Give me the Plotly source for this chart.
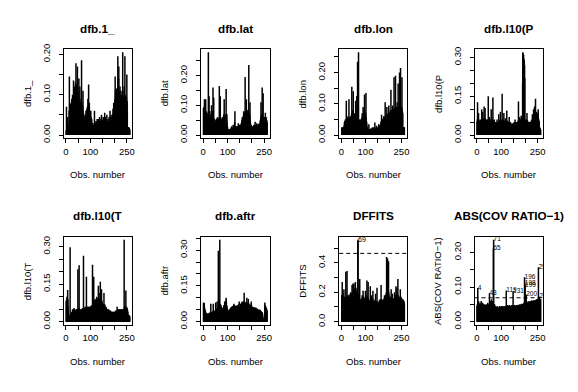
import plotly.graph_objects as go

# ---------------- data ----------------
dfb_1 = [
    0.012, 0.070, 0.015, 0.010, 0.020, 0.008, 0.045, 0.012, 0.018, 0.010,
    0.025, 0.015, 0.060, 0.145, 0.040, 0.020, 0.075, 0.070, 0.078, 0.065,
    0.072, 0.080, 0.068, 0.090, 0.078, 0.085, 0.100, 0.070, 0.095, 0.080,
    0.135, 0.090, 0.105, 0.088, 0.120, 0.095, 0.110, 0.085, 0.130, 0.100,
    0.178, 0.095, 0.120, 0.100, 0.080, 0.125, 0.170, 0.090, 0.110, 0.085,
    0.095, 0.075, 0.140, 0.090, 0.070, 0.085, 0.120, 0.060, 0.075, 0.080,
    0.065, 0.090, 0.070, 0.185, 0.080, 0.060, 0.075, 0.050, 0.070, 0.110,
    0.045, 0.055, 0.030, 0.048, 0.035, 0.020, 0.040, 0.025, 0.050, 0.030,
    0.045, 0.060, 0.035, 0.050, 0.040, 0.065, 0.055, 0.070, 0.050, 0.090,
    0.060, 0.075, 0.125, 0.065, 0.050, 0.080, 0.045, 0.060, 0.040, 0.055,
    0.035, 0.060, 0.045, 0.030, 0.025, 0.040, 0.020, 0.015, 0.030, 0.020,
    0.012, 0.018, 0.010, 0.025, 0.015, 0.030, 0.060, 0.020, 0.035, 0.025,
    0.020, 0.030, 0.015, 0.025, 0.035, 0.018, 0.022, 0.040, 0.020, 0.028,
    0.015, 0.025, 0.040, 0.030, 0.020, 0.035, 0.018, 0.045, 0.025, 0.030,
    0.020, 0.035, 0.028, 0.040, 0.022, 0.050, 0.030, 0.025, 0.038, 0.020,
    0.030, 0.018, 0.045, 0.025, 0.035, 0.020, 0.040, 0.030, 0.055, 0.022,
    0.035, 0.025, 0.045, 0.030, 0.020, 0.040, 0.028, 0.050, 0.035, 0.025,
    0.030, 0.022, 0.040, 0.018, 0.035, 0.028, 0.045, 0.030, 0.025, 0.038,
    0.060, 0.035, 0.045, 0.030, 0.050, 0.040, 0.025, 0.045, 0.030, 0.035,
    0.050, 0.040, 0.065, 0.045, 0.055, 0.080, 0.060, 0.050, 0.070, 0.055,
    0.090, 0.145, 0.110, 0.080, 0.100, 0.070, 0.115, 0.085, 0.095, 0.075,
    0.110, 0.090, 0.195, 0.120, 0.100, 0.140, 0.170, 0.090, 0.110, 0.080,
    0.100, 0.120, 0.085, 0.095, 0.070, 0.110, 0.090, 0.080, 0.100, 0.075,
    0.090, 0.085, 0.205, 0.110, 0.080, 0.095, 0.070, 0.085, 0.120, 0.090,
    0.075, 0.195, 0.100, 0.080, 0.090, 0.085, 0.070, 0.095, 0.080, 0.150,
    0.085, 0.060, 0.020, 0.015, 0.018, 0.012, 0.020, 0.015, 0.010, 0.018,
    0.012, 0.015,
]

dfb_lat = [
    0.090, 0.085, 0.095, 0.060, 0.120, 0.080, 0.070, 0.095, 0.060, 0.120,
    0.070, 0.055, 0.080, 0.060, 0.050, 0.075, 0.045, 0.065, 0.050, 0.060,
    0.278, 0.060, 0.055, 0.130, 0.050, 0.065, 0.080, 0.055, 0.045, 0.060,
    0.050, 0.070, 0.045, 0.100, 0.055, 0.050, 0.060, 0.045, 0.080, 0.160,
    0.060, 0.050, 0.125, 0.045, 0.055, 0.040, 0.050, 0.045, 0.048, 0.042,
    0.045, 0.050, 0.040, 0.055, 0.048, 0.045, 0.050, 0.060, 0.045, 0.052,
    0.048, 0.055, 0.050, 0.045, 0.060, 0.165, 0.050, 0.045, 0.055, 0.130,
    0.050, 0.045, 0.055, 0.048, 0.052, 0.045, 0.050, 0.060, 0.045, 0.055,
    0.060, 0.050, 0.045, 0.070, 0.055, 0.120, 0.050, 0.060, 0.045, 0.055,
    0.050, 0.045, 0.070, 0.155, 0.060, 0.050, 0.070, 0.040, 0.030, 0.025,
    0.020, 0.015, 0.012, 0.018, 0.010, 0.015, 0.020, 0.012, 0.018, 0.010,
    0.015, 0.012, 0.020, 0.025, 0.018, 0.015, 0.030, 0.020, 0.015, 0.022,
    0.018, 0.025, 0.035, 0.020, 0.015, 0.025, 0.030, 0.020, 0.045, 0.080,
    0.025, 0.030, 0.020, 0.028, 0.022, 0.030, 0.018, 0.025, 0.020, 0.030,
    0.022, 0.028, 0.020, 0.040, 0.025, 0.018, 0.030, 0.022, 0.035, 0.025,
    0.020, 0.030, 0.025, 0.035, 0.028, 0.040, 0.030, 0.045, 0.050, 0.060,
    0.045, 0.055, 0.060, 0.050, 0.065, 0.080, 0.055, 0.070, 0.060, 0.075,
    0.065, 0.195, 0.080, 0.070, 0.060, 0.075, 0.120, 0.065, 0.070, 0.085,
    0.070, 0.060, 0.080, 0.065, 0.075, 0.070, 0.235, 0.080, 0.060, 0.070,
    0.065, 0.110, 0.050, 0.040, 0.030, 0.025, 0.035, 0.020, 0.030, 0.010,
    0.025, 0.020, 0.030, 0.015, 0.025, 0.030, 0.020, 0.035, 0.025, 0.030,
    0.025, 0.035, 0.045, 0.030, 0.025, 0.035, 0.030, 0.025, 0.040, 0.030,
    0.035, 0.028, 0.032, 0.025, 0.030, 0.038, 0.028, 0.035, 0.030, 0.025,
    0.030, 0.035, 0.040, 0.050, 0.045, 0.060, 0.110, 0.055, 0.070, 0.060,
    0.065, 0.160, 0.070, 0.060, 0.055, 0.140, 0.060, 0.050, 0.040, 0.060,
    0.055, 0.045, 0.060, 0.050, 0.075, 0.055, 0.045, 0.050, 0.060, 0.040,
    0.050, 0.045,
]

dfb_lon = [
    0.025, 0.020, 0.022, 0.018, 0.025, 0.020, 0.015, 0.022, 0.025, 0.020,
    0.030, 0.040, 0.035, 0.045, 0.040, 0.050, 0.045, 0.048, 0.050, 0.110,
    0.050, 0.045, 0.055, 0.050, 0.048, 0.052, 0.060, 0.050, 0.045, 0.055,
    0.115, 0.050, 0.048, 0.055, 0.050, 0.050, 0.060, 0.045, 0.050, 0.055,
    0.060, 0.070, 0.155, 0.065, 0.055, 0.080, 0.070, 0.060, 0.140, 0.065,
    0.055, 0.060, 0.070, 0.050, 0.045, 0.060, 0.055, 0.065, 0.110, 0.060,
    0.050, 0.055, 0.060, 0.125, 0.050, 0.045, 0.235, 0.055, 0.060, 0.050,
    0.265, 0.045, 0.040, 0.050, 0.040, 0.045, 0.038, 0.042, 0.050, 0.045,
    0.045, 0.050, 0.040, 0.055, 0.048, 0.070, 0.050, 0.060, 0.055, 0.090,
    0.060, 0.070, 0.065, 0.080, 0.070, 0.130, 0.075, 0.060, 0.065, 0.070,
    0.060, 0.135, 0.055, 0.045, 0.040, 0.030, 0.025, 0.020, 0.015, 0.012,
    0.015, 0.010, 0.018, 0.035, 0.012, 0.015, 0.020, 0.010, 0.015, 0.018,
    0.012, 0.020, 0.015, 0.018, 0.022, 0.015, 0.020, 0.015, 0.025, 0.018,
    0.020, 0.015, 0.022, 0.018, 0.025, 0.020, 0.015, 0.018, 0.040, 0.020,
    0.018, 0.022, 0.015, 0.025, 0.020, 0.030, 0.018, 0.022, 0.020, 0.025,
    0.020, 0.018, 0.025, 0.020, 0.035, 0.022, 0.025, 0.030, 0.025, 0.028,
    0.030, 0.035, 0.030, 0.040, 0.035, 0.045, 0.065, 0.040, 0.045, 0.050,
    0.045, 0.040, 0.050, 0.045, 0.055, 0.060, 0.045, 0.050, 0.055, 0.050,
    0.060, 0.105, 0.055, 0.050, 0.060, 0.065, 0.055, 0.060, 0.090, 0.060,
    0.055, 0.065, 0.060, 0.070, 0.065, 0.060, 0.095, 0.065, 0.070, 0.065,
    0.070, 0.075, 0.065, 0.080, 0.070, 0.145, 0.075, 0.070, 0.080, 0.075,
    0.070, 0.080, 0.095, 0.075, 0.070, 0.080, 0.075, 0.085, 0.185, 0.080,
    0.075, 0.085, 0.080, 0.090, 0.190, 0.080, 0.075, 0.085, 0.080, 0.090,
    0.080, 0.105, 0.085, 0.080, 0.090, 0.165, 0.085, 0.080, 0.090, 0.085,
    0.095, 0.200, 0.085, 0.090, 0.080, 0.215, 0.090, 0.085, 0.080, 0.090,
    0.085, 0.185, 0.080, 0.075, 0.070, 0.025, 0.022, 0.025, 0.020, 0.025,
    0.022, 0.025,
]

dfb_l10P = [
    0.050, 0.060, 0.127, 0.055, 0.050, 0.045, 0.085, 0.050, 0.060, 0.045,
    0.050, 0.045, 0.045, 0.055, 0.050, 0.060, 0.055, 0.050, 0.060, 0.100,
    0.055, 0.050, 0.060, 0.090, 0.055, 0.060, 0.050, 0.065, 0.055, 0.110,
    0.060, 0.055, 0.065, 0.105, 0.060, 0.050, 0.055, 0.045, 0.060, 0.050,
    0.060, 0.055, 0.050, 0.045, 0.055, 0.060, 0.150, 0.055, 0.050, 0.045,
    0.055, 0.070, 0.050, 0.045, 0.055, 0.050, 0.060, 0.050, 0.100, 0.045,
    0.050, 0.055, 0.045, 0.050, 0.060, 0.145, 0.050, 0.045, 0.055, 0.050,
    0.045, 0.060, 0.040, 0.045, 0.035, 0.040, 0.045, 0.050, 0.040, 0.045,
    0.050, 0.045, 0.060, 0.040, 0.045, 0.050, 0.045, 0.040, 0.050, 0.080,
    0.045, 0.050, 0.055, 0.045, 0.050, 0.060, 0.090, 0.050, 0.045, 0.055,
    0.050, 0.060, 0.055, 0.160, 0.050, 0.045, 0.055, 0.050, 0.060, 0.050,
    0.085, 0.050, 0.045, 0.055, 0.050, 0.045, 0.065, 0.050, 0.045, 0.055,
    0.050, 0.045, 0.095, 0.050, 0.045, 0.050, 0.055, 0.045, 0.050, 0.045,
    0.050, 0.045, 0.070, 0.050, 0.045, 0.040, 0.045, 0.050, 0.040, 0.040,
    0.045, 0.040, 0.035, 0.040, 0.045, 0.040, 0.035, 0.040, 0.045, 0.040,
    0.045, 0.040, 0.050, 0.045, 0.040, 0.045, 0.060, 0.045, 0.050, 0.045,
    0.040, 0.045, 0.040, 0.050, 0.045, 0.050, 0.045, 0.050, 0.055, 0.050,
    0.130, 0.055, 0.050, 0.060, 0.070, 0.055, 0.050, 0.060, 0.055, 0.060,
    0.055, 0.075, 0.060, 0.055, 0.060, 0.065, 0.055, 0.200, 0.320, 0.315,
    0.300, 0.310, 0.295, 0.290, 0.285, 0.270, 0.220, 0.060, 0.055, 0.050,
    0.055, 0.060, 0.050, 0.055, 0.060, 0.085, 0.050, 0.045, 0.055, 0.050,
    0.045, 0.050, 0.040, 0.045, 0.050, 0.045, 0.040, 0.050, 0.045, 0.050,
    0.045, 0.050, 0.055, 0.045, 0.050, 0.060, 0.055, 0.080, 0.060, 0.065,
    0.070, 0.065, 0.100, 0.075, 0.070, 0.080, 0.110, 0.075, 0.080, 0.070,
    0.140, 0.080, 0.075, 0.070, 0.090, 0.065, 0.075, 0.070, 0.060, 0.085,
    0.070, 0.100, 0.065, 0.060, 0.055, 0.050, 0.025, 0.030, 0.025, 0.020,
    0.025, 0.020,
]

dfb_l10T = [
    0.085, 0.080, 0.090, 0.100, 0.085, 0.080, 0.127, 0.090, 0.060, 0.040,
    0.030, 0.020, 0.015, 0.018, 0.020, 0.025, 0.297, 0.020, 0.025, 0.030,
    0.020, 0.035, 0.030, 0.040, 0.035, 0.030, 0.050, 0.040, 0.035, 0.045,
    0.040, 0.035, 0.055, 0.045, 0.040, 0.050, 0.045, 0.040, 0.040, 0.045,
    0.040, 0.050, 0.045, 0.040, 0.050, 0.045, 0.050, 0.045, 0.210, 0.050,
    0.045, 0.050, 0.055, 0.225, 0.050, 0.045, 0.050, 0.040, 0.040, 0.045,
    0.050, 0.045, 0.040, 0.045, 0.050, 0.045, 0.050, 0.055, 0.050, 0.045,
    0.050, 0.263, 0.060, 0.050, 0.055, 0.045, 0.040, 0.055, 0.050, 0.060,
    0.055, 0.060, 0.050, 0.180, 0.060, 0.055, 0.060, 0.050, 0.050, 0.055,
    0.060, 0.055, 0.050, 0.060, 0.055, 0.050, 0.060, 0.055, 0.060, 0.050,
    0.055, 0.060, 0.060, 0.065, 0.060, 0.055, 0.065, 0.060, 0.227, 0.070,
    0.075, 0.070, 0.080, 0.180, 0.075, 0.080, 0.070, 0.085, 0.080, 0.090,
    0.085, 0.080, 0.090, 0.085, 0.080, 0.100, 0.090, 0.085, 0.080, 0.090,
    0.085, 0.095, 0.144, 0.090, 0.085, 0.115, 0.090, 0.085, 0.080, 0.090,
    0.160, 0.085, 0.080, 0.090, 0.085, 0.130, 0.085, 0.080, 0.075, 0.060,
    0.065, 0.070, 0.060, 0.065, 0.070, 0.115, 0.065, 0.060, 0.070, 0.065,
    0.060, 0.060, 0.055, 0.060, 0.050, 0.055, 0.050, 0.045, 0.050, 0.045,
    0.050, 0.045, 0.040, 0.045, 0.050, 0.040, 0.045, 0.040, 0.045, 0.040,
    0.035, 0.040, 0.045, 0.035, 0.040, 0.030, 0.035, 0.040, 0.035, 0.030,
    0.035, 0.040, 0.030, 0.035, 0.040, 0.035, 0.030, 0.035, 0.040, 0.035,
    0.030, 0.040, 0.035, 0.045, 0.040, 0.035, 0.040, 0.045, 0.040, 0.060,
    0.045, 0.040, 0.050, 0.045, 0.040, 0.050, 0.045, 0.040, 0.050, 0.045,
    0.040, 0.045, 0.040, 0.050, 0.040, 0.045, 0.050, 0.045, 0.040, 0.045,
    0.050, 0.045, 0.040, 0.050, 0.045, 0.040, 0.045, 0.050, 0.327, 0.060,
    0.055, 0.050, 0.060, 0.055, 0.060, 0.125, 0.060, 0.055, 0.060, 0.050,
    0.055, 0.050, 0.045, 0.040, 0.030, 0.025, 0.025, 0.020, 0.025, 0.020,
    0.025, 0.020,
]

dfb_aftr = [
    0.080, 0.075, 0.070, 0.078, 0.060, 0.055, 0.050, 0.045, 0.040, 0.042,
    0.035, 0.030, 0.028, 0.032, 0.030, 0.025, 0.035, 0.030, 0.028, 0.032,
    0.030, 0.035, 0.028, 0.030, 0.038, 0.032, 0.030, 0.035, 0.040, 0.035,
    0.075, 0.038, 0.040, 0.035, 0.042, 0.038, 0.040, 0.035, 0.040, 0.045,
    0.075, 0.040, 0.045, 0.038, 0.042, 0.040, 0.045, 0.042, 0.048, 0.045,
    0.080, 0.045, 0.050, 0.048, 0.055, 0.050, 0.085, 0.055, 0.060, 0.058,
    0.062, 0.297, 0.065, 0.070, 0.090, 0.068, 0.072, 0.343, 0.075, 0.070,
    0.072, 0.070, 0.065, 0.060, 0.055, 0.058, 0.050, 0.055, 0.052, 0.050,
    0.055, 0.060, 0.058, 0.062, 0.070, 0.065, 0.068, 0.085, 0.075, 0.080,
    0.078, 0.085, 0.090, 0.100, 0.080, 0.070, 0.065, 0.060, 0.055, 0.050,
    0.045, 0.040, 0.045, 0.042, 0.048, 0.045, 0.050, 0.048, 0.052, 0.050,
    0.055, 0.052, 0.058, 0.060, 0.055, 0.058, 0.062, 0.060, 0.065, 0.062,
    0.060, 0.065, 0.062, 0.068, 0.065, 0.075, 0.068, 0.065, 0.070, 0.065,
    0.062, 0.065, 0.060, 0.065, 0.062, 0.060, 0.065, 0.068, 0.062, 0.065,
    0.068, 0.065, 0.070, 0.068, 0.072, 0.070, 0.075, 0.085, 0.072, 0.075,
    0.070, 0.072, 0.068, 0.075, 0.070, 0.072, 0.075, 0.078, 0.080, 0.085,
    0.078, 0.080, 0.082, 0.078, 0.085, 0.080, 0.082, 0.121, 0.085, 0.080,
    0.078, 0.082, 0.070, 0.075, 0.078, 0.080, 0.075, 0.082, 0.100, 0.078,
    0.075, 0.080, 0.078, 0.075, 0.095, 0.078, 0.075, 0.072, 0.070, 0.070,
    0.068, 0.070, 0.072, 0.068, 0.065, 0.070, 0.085, 0.065, 0.068, 0.062,
    0.060, 0.062, 0.058, 0.060, 0.062, 0.058, 0.060, 0.055, 0.058, 0.055,
    0.058, 0.060, 0.055, 0.052, 0.055, 0.058, 0.052, 0.055, 0.050, 0.052,
    0.055, 0.050, 0.052, 0.048, 0.050, 0.045, 0.048, 0.050, 0.045, 0.048,
    0.050, 0.045, 0.050, 0.048, 0.045, 0.042, 0.045, 0.040, 0.042, 0.040,
    0.038, 0.040, 0.035, 0.030, 0.020, 0.010, 0.012, 0.008, 0.010, 0.012,
    0.010, 0.008, 0.080, 0.070, 0.060, 0.065, 0.055, 0.060, 0.050, 0.055,
    0.050, 0.045,
]

dffits = [
    0.180, 0.150, 0.270, 0.160, 0.190, 0.170, 0.150, 0.160, 0.140, 0.220,
    0.150, 0.170, 0.160, 0.170, 0.140, 0.165, 0.150, 0.340, 0.160, 0.150,
    0.170, 0.160, 0.345, 0.175, 0.160, 0.155, 0.180, 0.160, 0.170, 0.150,
    0.165, 0.185, 0.160, 0.170, 0.150, 0.175, 0.165, 0.200, 0.170, 0.180,
    0.175, 0.190, 0.180, 0.250, 0.185, 0.200, 0.195, 0.260, 0.205, 0.210,
    0.200, 0.260, 0.215, 0.220, 0.210, 0.225, 0.215, 0.270, 0.220, 0.230,
    0.210, 0.120, 0.200, 0.180, 0.190, 0.170, 0.160, 0.550, 0.556, 0.190,
    0.150, 0.130, 0.140, 0.120, 0.160, 0.290, 0.150, 0.140, 0.120, 0.100,
    0.130, 0.150, 0.140, 0.160, 0.150, 0.180, 0.160, 0.170, 0.150, 0.210,
    0.170, 0.160, 0.150, 0.140, 0.150, 0.130, 0.160, 0.150, 0.170, 0.210,
    0.160, 0.150, 0.170, 0.160, 0.180, 0.280, 0.170, 0.160, 0.150, 0.165,
    0.270, 0.150, 0.140, 0.130, 0.120, 0.080, 0.130, 0.140, 0.150, 0.240,
    0.150, 0.140, 0.160, 0.150, 0.180, 0.140, 0.130, 0.150, 0.140, 0.160,
    0.210, 0.140, 0.130, 0.120, 0.140, 0.130, 0.120, 0.140, 0.130, 0.150,
    0.140, 0.190, 0.130, 0.140, 0.120, 0.130, 0.140, 0.230, 0.130, 0.120,
    0.130, 0.120, 0.110, 0.120, 0.130, 0.120, 0.140, 0.130, 0.150, 0.140,
    0.130, 0.140, 0.150, 0.140, 0.250, 0.150, 0.140, 0.130, 0.140, 0.150,
    0.130, 0.120, 0.140, 0.130, 0.140, 0.150, 0.140, 0.160, 0.180, 0.150,
    0.160, 0.170, 0.160, 0.180, 0.170, 0.190, 0.200, 0.440, 0.200, 0.190,
    0.210, 0.430, 0.200, 0.210, 0.220, 0.410, 0.200, 0.180, 0.170, 0.160,
    0.150, 0.130, 0.150, 0.160, 0.150, 0.170, 0.220, 0.160, 0.150, 0.170,
    0.160, 0.190, 0.150, 0.160, 0.140, 0.150, 0.120, 0.150, 0.160, 0.150,
    0.200, 0.160, 0.170, 0.150, 0.160, 0.180, 0.240, 0.170, 0.160, 0.180,
    0.230, 0.170, 0.180, 0.160, 0.290, 0.180, 0.170, 0.160, 0.150, 0.170,
    0.160, 0.150, 0.170, 0.160, 0.220, 0.150, 0.160, 0.170, 0.150, 0.160,
    0.150, 0.140, 0.150, 0.150, 0.140, 0.130, 0.150, 0.140, 0.130, 0.140,
    0.130, 0.120,
]

abs_covratio = [
    0.045, 0.050, 0.040, 0.097, 0.055, 0.045, 0.060, 0.040, 0.050, 0.045,
    0.050, 0.040, 0.055, 0.045, 0.040, 0.050, 0.035, 0.060, 0.045, 0.040,
    0.050, 0.045, 0.040, 0.055, 0.045, 0.035, 0.050, 0.040, 0.045, 0.038,
    0.042, 0.050, 0.040, 0.045, 0.035, 0.048, 0.040, 0.045, 0.038, 0.050,
    0.040, 0.045, 0.050, 0.040, 0.055, 0.045, 0.040, 0.050, 0.045, 0.040,
    0.045, 0.082, 0.050, 0.045, 0.040, 0.050, 0.060, 0.045, 0.050, 0.065,
    0.050, 0.055, 0.045, 0.050, 0.060, 0.055, 0.050, 0.210, 0.236, 0.050,
    0.045, 0.040, 0.050, 0.035, 0.040, 0.045, 0.038, 0.040, 0.035, 0.042,
    0.040, 0.035, 0.045, 0.038, 0.030, 0.040, 0.035, 0.042, 0.038, 0.040,
    0.035, 0.040, 0.045, 0.038, 0.040, 0.035, 0.042, 0.040, 0.038, 0.045,
    0.040, 0.038, 0.042, 0.035, 0.040, 0.045, 0.038, 0.040, 0.042, 0.038,
    0.040, 0.045, 0.038, 0.042, 0.040, 0.038, 0.045, 0.040, 0.042, 0.040,
    0.090, 0.040, 0.045, 0.042, 0.040, 0.045, 0.048, 0.042, 0.040, 0.045,
    0.042, 0.045, 0.040, 0.048, 0.042, 0.045, 0.040, 0.042, 0.045, 0.040,
    0.045, 0.042, 0.048, 0.045, 0.040, 0.045, 0.042, 0.048, 0.088, 0.045,
    0.042, 0.045, 0.040, 0.045, 0.048, 0.042, 0.045, 0.040, 0.045, 0.042,
    0.045, 0.048, 0.042, 0.045, 0.040, 0.045, 0.048, 0.045, 0.042, 0.048,
    0.045, 0.042, 0.048, 0.045, 0.050, 0.045, 0.048, 0.042, 0.045, 0.048,
    0.050, 0.045, 0.048, 0.052, 0.045, 0.050, 0.048, 0.045, 0.050, 0.052,
    0.050, 0.048, 0.055, 0.050, 0.052, 0.128, 0.111, 0.106, 0.055, 0.050,
    0.052, 0.050, 0.078, 0.055, 0.050, 0.052, 0.055, 0.050, 0.055, 0.058,
    0.052, 0.055, 0.058, 0.050, 0.055, 0.052, 0.058, 0.055, 0.060, 0.055,
    0.058, 0.055, 0.060, 0.055, 0.058, 0.062, 0.055, 0.058, 0.060, 0.055,
    0.058, 0.060, 0.055, 0.062, 0.058, 0.060, 0.062, 0.058, 0.060, 0.062,
    0.060, 0.058, 0.062, 0.060, 0.065, 0.062, 0.060, 0.065, 0.062, 0.060,
    0.065, 0.062, 0.157, 0.065, 0.063, 0.065, 0.072, 0.065, 0.063, 0.065,
    0.064, 0.065,
]

series_names = ["dfb.1_", "dfb.lat", "dfb.lon", "dfb.l10(P",
                "dfb.l10(T", "dfb.aftr", "DFFITS", "ABS(COV RATIO\u22121)"]
series_values = [dfb_1, dfb_lat, dfb_lon, dfb_l10P,
                 dfb_l10T, dfb_aftr, dffits, abs_covratio]

y_tickvals = [
    [0, 0.05, 0.10, 0.15, 0.20],
    [0, 0.05, 0.10, 0.15, 0.20, 0.25],
    [0, 0.05, 0.10, 0.15, 0.20, 0.25],
    [0, 0.05, 0.10, 0.15, 0.20, 0.25, 0.30],
    [0, 0.05, 0.10, 0.15, 0.20, 0.25, 0.30],
    [0, 0.05, 0.10, 0.15, 0.20, 0.25, 0.30, 0.35],
    [0, 0.1, 0.2, 0.3, 0.4, 0.5],
    [0, 0.05, 0.10, 0.15, 0.20],
]
y_ticktext = [
    ["0.00", "", "0.10", "", "0.20"],
    ["0.00", "", "0.10", "", "0.20", ""],
    ["0.00", "", "0.10", "", "0.20", ""],
    ["0.00", "", "", "0.15", "", "", "0.30"],
    ["0.00", "", "", "0.15", "", "", "0.30"],
    ["0.00", "", "", "0.15", "", "", "0.30", ""],
    ["0.0", "", "0.2", "", "0.4", ""],
    ["0.00", "", "0.10", "", "0.20"],
]
x_tickvals = [0, 50, 100, 150, 200, 250]
x_ticktext = ["0", "", "100", "", "", "250"]
x_title = "Obs. number"

dffits_cutoff = 0.464
covratio_cutoff = 0.069
dffits_label_obs = [69]
dffits_label_text = ["69"]
covratio_label_obs = [4, 52, 68, 69, 121, 149, 196, 197, 198, 203, 253, 257]
covratio_label_text = ["4", "43", "65", "71", "119", "131", "196", "198",
                       "199", "200", "253", "262"]

# ---------------- layout geometry (pixels) ----------------
W, H = 578, 392
col_px = [(64, 133), (202, 271), (341, 409), (477, 546)]
row_px = [(45, 136.5), (237, 327.5)]
FONT = "Liberation Sans, Arial, Helvetica, sans-serif"

fig = go.Figure()
annotations = []
shapes = []


def px_x(p):
    return p / W


def px_y(p):
    return 1 - p / H


for k, (name, vals) in enumerate(zip(series_names, series_values)):
    r, c = divmod(k, 4)
    ax = "" if k == 0 else str(k + 1)
    xs, ys = [], []
    for i, v in enumerate(vals, start=1):
        xs += [i, i, None]
        ys += [0, v, None]
    fig.add_trace(go.Scatter(x=xs, y=ys, mode="lines",
                             line=dict(color="black", width=1.5),
                             xaxis="x" + ax, yaxis="y" + ax,
                             hoverinfo="skip", showlegend=False))
    n = len(vals)
    vmax = max(vals)
    x0, x1 = col_px[c]
    y0, y1 = row_px[r]
    fig.layout["xaxis" + ax] = dict(
        domain=[px_x(x0), px_x(x1)], anchor="y" + ax,
        range=[1 - 0.04 * (n - 1), n + 0.04 * (n - 1)],
        tickvals=x_tickvals, ticktext=x_ticktext, ticks="outside", ticklen=4,
        tickcolor="black", showline=True, mirror=True, linecolor="black",
        linewidth=1, showgrid=False, zeroline=False,
        tickfont=dict(family=FONT, size=9.5, color="black"))
    fig.layout["yaxis" + ax] = dict(
        domain=[px_y(y1), px_y(y0)], anchor="x" + ax,
        range=[-0.04 * vmax, 1.04 * vmax],
        tickvals=y_tickvals[k], ticktext=y_ticktext[k], ticks="outside",
        ticklen=4, tickcolor="black", tickangle=-90, ticklabelstandoff=5,
        showline=True, mirror=True, linecolor="black", linewidth=1,
        showgrid=False, zeroline=False,
        tickfont=dict(family=FONT, size=9.5, color="black"))
    xc = (x0 + x1) / 2
    annotations.append(dict(text="<b>" + name + "</b>", x=px_x(xc),
                            y=px_y(24 if r == 0 else 215), xref="paper",
                            yref="paper", showarrow=False,
                            xanchor="center", yanchor="middle",
                            font=dict(family=FONT, size=11.7, color="black")))
    annotations.append(dict(text=x_title, x=px_x(xc),
                            y=px_y(173 if r == 0 else 365), xref="paper",
                            yref="paper", showarrow=False,
                            xanchor="center", yanchor="middle",
                            font=dict(family=FONT, size=9.5, color="black")))
    annotations.append(dict(text=name, x=px_x(x0 - 36.5),
                            y=px_y((y0 + y1) / 2), xref="paper",
                            yref="paper", showarrow=False, textangle=-90,
                            xanchor="center", yanchor="middle",
                            font=dict(family=FONT, size=9.5, color="black")))

    if name == "DFFITS":
        shapes.append(dict(type="line", xref="x" + ax + " domain", x0=0, x1=1,
                           yref="y" + ax, y0=dffits_cutoff, y1=dffits_cutoff,
                           line=dict(color="black", width=1, dash="4px,3px")))
        fig.add_trace(go.Scatter(
            x=dffits_label_obs, y=[vals[i - 1] for i in dffits_label_obs],
            text=dffits_label_text, mode="text", textposition="middle right",
            textfont=dict(family=FONT, size=7, color="black"),
            xaxis="x" + ax, yaxis="y" + ax, hoverinfo="skip",
            showlegend=False, cliponaxis=True))
    if name.startswith("ABS"):
        shapes.append(dict(type="line", xref="x" + ax + " domain", x0=0, x1=1,
                           yref="y" + ax, y0=covratio_cutoff,
                           y1=covratio_cutoff,
                           line=dict(color="black", width=1, dash="4px,3px")))
        fig.add_trace(go.Scatter(
            x=covratio_label_obs,
            y=[vals[i - 1] for i in covratio_label_obs],
            text=covratio_label_text, mode="text",
            textposition="middle right",
            textfont=dict(family=FONT, size=6.5, color="black"),
            xaxis="x" + ax, yaxis="y" + ax, hoverinfo="skip",
            showlegend=False, cliponaxis=True))

fig.update_layout(width=W, height=H, autosize=False,
                  margin=dict(l=0, r=0, t=0, b=0, pad=0),
                  paper_bgcolor="white", plot_bgcolor="white",
                  annotations=annotations, shapes=shapes,
                  font=dict(family=FONT, color="black"),
                  hovermode=False)

fig.write_html("out.html", config={"displayModeBar": False},
               post_script="document.body.style.margin='0px';")
